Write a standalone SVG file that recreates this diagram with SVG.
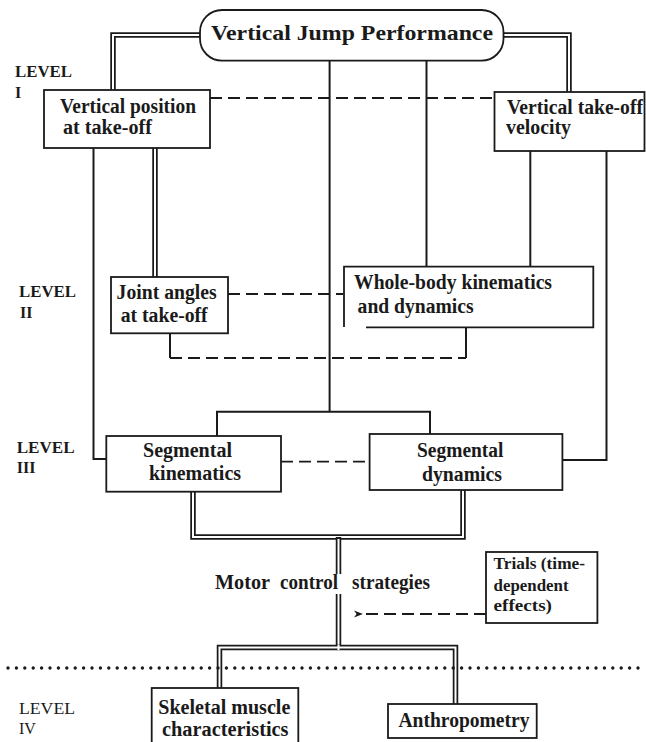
<svg xmlns="http://www.w3.org/2000/svg" width="646" height="742" viewBox="0 0 646 742">
<style>
text{font-family:"Liberation Serif","Times New Roman",serif;font-weight:bold;fill:#1a1a1a}
.lbl{font-size:20px}
.lvl{font-size:16px}
.sm{font-size:16px}
.ttl{font-size:21px}
.box{fill:#fff;stroke:#1a1a1a;stroke-width:1.8}
.ln{fill:none;stroke:#1a1a1a;stroke-width:2}
.dash{fill:none;stroke:#1a1a1a;stroke-width:1.8;stroke-dasharray:12 6}
.dblo{fill:none;stroke:#1a1a1a;stroke-width:5.5}
.dbli{fill:none;stroke:#fff;stroke-width:2}
.dots{fill:none;stroke:#1a1a1a;stroke-width:3.4;stroke-linecap:round;stroke-dasharray:0 8.4}
</style>
<defs>
<marker id="ah" viewBox="0 0 10 10" refX="1" refY="5" markerWidth="9" markerHeight="9" markerUnits="userSpaceOnUse" orient="auto">
<path d="M10,1 L0,5 L10,9 L7,5 Z" fill="#1a1a1a"/>
</marker>
</defs>
<rect width="646" height="742" fill="#fff"/>
<g id="connectors">
<path class="dblo" d="M200,35 H113 V91"/>
<path class="dbli" d="M200,35 H113 V91"/>
<path class="dblo" d="M503,35 H569 V93"/>
<path class="dbli" d="M503,35 H569 V93"/>
<path class="ln" d="M329.6,61 V411.7"/>
<path class="ln" d="M426.5,61 V266.7"/>
<path class="dash" d="M210,98 H494.5"/>
<path class="ln" d="M93.5,148 V459 H106.3"/>
<path class="dblo" d="M155,148 V277"/>
<path class="dbli" d="M155,148 V277"/>
<path class="ln" d="M530.3,150 V266.7"/>
<path class="ln" d="M606.5,150 V460 H562.4"/>
<path class="dash" d="M228,294 H343"/>
<path class="ln" d="M170,333 V358"/>
<path class="ln" d="M466,327 V358"/>
<path class="dash" d="M170,358 H466"/>
<path class="ln" d="M217,436 V411.7 H430 V434"/>
<path class="dash" d="M281,461.7 H369.6"/>
<path class="dblo" d="M193,491.7 V537 H463 V490"/>
<path class="dbli" d="M193,491.7 V537 H463 V490"/>
<path class="dblo" d="M338.5,537 V574"/>
<path class="dbli" d="M338.5,539 V574"/>
<path class="dblo" d="M338.5,594 V647.5"/>
<path class="dbli" d="M338.5,594 V647.5"/>
<path class="dblo" d="M219.5,688 V647.5 H455.5 V704"/>
<path class="dbli" d="M219.5,688 V647.5 H455.5 V704"/>
<path class="dbli" d="M338.5,645 V650"/>
<path class="dots" d="M8,668 H646"/>
<path class="dash" d="M486,614 H362" marker-end="url(#ah)"/>
</g>
<g id="title">
<rect x="200" y="10" width="303.5" height="50.7" rx="22" class="box"/>
<text class="ttl" x="211" y="40" textLength="282" lengthAdjust="spacingAndGlyphs">Vertical Jump Performance</text>
</g>
<g id="level-labels">
<text class="lvl" x="15" y="77" textLength="57" lengthAdjust="spacingAndGlyphs">LEVEL</text>
<text class="lvl" x="15" y="98">I</text>
<text class="lvl" x="19" y="297" textLength="57" lengthAdjust="spacingAndGlyphs">LEVEL</text>
<text class="lvl" x="20" y="318">II</text>
<text class="lvl" x="16.7" y="453" textLength="58" lengthAdjust="spacingAndGlyphs">LEVEL</text>
<text class="lvl" x="16.7" y="473">III</text>
<text class="lvl" x="19" y="714" textLength="56" lengthAdjust="spacingAndGlyphs" style="font-weight:normal">LEVEL</text>
<text class="lvl" x="19" y="734" style="font-weight:normal">IV</text>
</g>
<g id="vert-position">
<rect x="44" y="90" width="166" height="58" class="box"/>
<text class="lbl" x="60" y="113" textLength="136" lengthAdjust="spacingAndGlyphs">Vertical position</text>
<text class="lbl" x="63" y="134" textLength="89" lengthAdjust="spacingAndGlyphs">at take-off</text>
</g>
<g id="takeoff-velocity">
<rect x="494.5" y="92" width="150" height="59" class="box"/>
<text class="lbl" x="507" y="114" textLength="136" lengthAdjust="spacingAndGlyphs">Vertical take-off</text>
<text class="lbl" x="506" y="134" textLength="65" lengthAdjust="spacingAndGlyphs">velocity</text>
</g>
<g id="joint-angles">
<rect x="111" y="277" width="117" height="56.3" class="box"/>
<text class="lbl" x="116.6" y="299" textLength="100" lengthAdjust="spacingAndGlyphs">Joint angles</text>
<text class="lbl" x="120.7" y="322" textLength="87" lengthAdjust="spacingAndGlyphs">at take-off</text>
</g>
<g id="whole-body">
<rect x="344" y="266.7" width="249.3" height="60.6" fill="#fff"/>
<path class="box" fill="none" d="M366,327.3 H593.3 V266.7 H344 V327"/>
<text class="lbl" x="354" y="289.3" textLength="198" lengthAdjust="spacingAndGlyphs">Whole-body kinematics</text>
<text class="lbl" x="357.6" y="312.7" textLength="116" lengthAdjust="spacingAndGlyphs">and dynamics</text>
</g>
<g id="seg-kinematics">
<rect x="106.3" y="436" width="174.7" height="55.7" class="box"/>
<text class="lbl" x="143" y="457" textLength="89" lengthAdjust="spacingAndGlyphs">Segmental</text>
<text class="lbl" x="149" y="480" textLength="92" lengthAdjust="spacingAndGlyphs">kinematics</text>
</g>
<g id="seg-dynamics">
<rect x="369.6" y="434" width="192.8" height="56" class="box"/>
<text class="lbl" x="417" y="457.3" textLength="86.5" lengthAdjust="spacingAndGlyphs">Segmental</text>
<text class="lbl" x="422" y="480.7" textLength="80" lengthAdjust="spacingAndGlyphs">dynamics</text>
</g>
<g id="motor-control">
<text class="lbl" y="589"><tspan x="215" textLength="55" lengthAdjust="spacingAndGlyphs">Motor</tspan><tspan x="280" textLength="58" lengthAdjust="spacingAndGlyphs">control</tspan><tspan x="352" textLength="78" lengthAdjust="spacingAndGlyphs">strategies</tspan></text>
</g>
<g id="trials">
<rect x="486" y="552" width="111.4" height="71" class="box"/>
<text class="sm" x="493.6" y="569.3" textLength="91.4" lengthAdjust="spacingAndGlyphs">Trials (time-</text>
<text class="sm" x="493.6" y="590.7" textLength="75" lengthAdjust="spacingAndGlyphs">dependent</text>
<text class="sm" x="493.6" y="610.7" textLength="58.4" lengthAdjust="spacingAndGlyphs">effects)</text>
</g>
<g id="skeletal-muscle">
<rect x="151.7" y="688" width="146.6" height="60" class="box"/>
<text class="lbl" x="158.3" y="714" textLength="132" lengthAdjust="spacingAndGlyphs">Skeletal muscle</text>
<text class="lbl" x="162" y="735.5" textLength="126.5" lengthAdjust="spacingAndGlyphs">characteristics</text>
</g>
<g id="anthropometry">
<rect x="388" y="704" width="148.7" height="34" class="box"/>
<text class="lbl" x="398.5" y="727.3" textLength="131" lengthAdjust="spacingAndGlyphs">Anthropometry</text>
</g>
</svg>
